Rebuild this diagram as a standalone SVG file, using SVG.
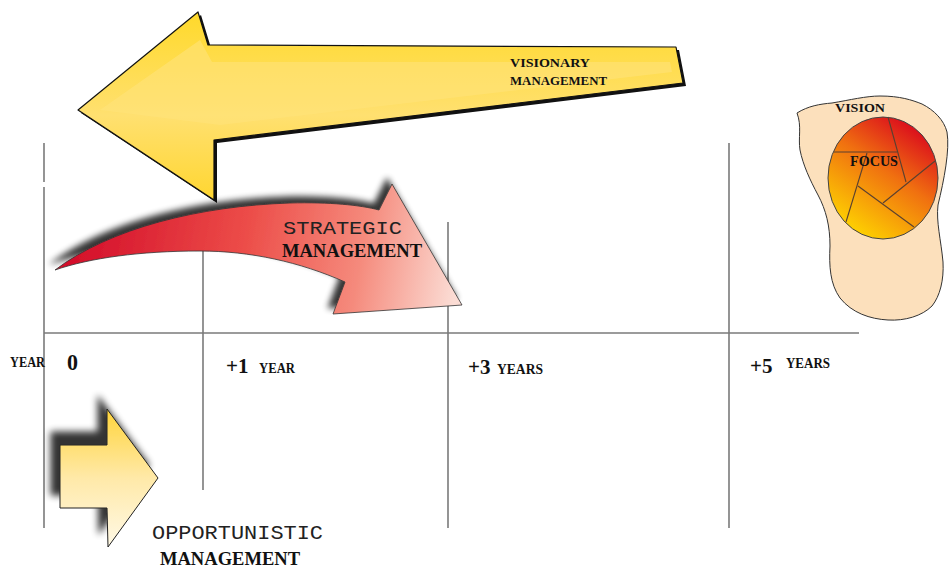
<svg xmlns="http://www.w3.org/2000/svg" width="949" height="568" viewBox="0 0 949 568">
<defs>
<style>
.grid{stroke:#7a7a7a;stroke-width:1.6;fill:none}
.serif{font-family:"Liberation Serif","Times New Roman",serif;font-weight:bold;fill:#111}
.mono{font-family:"Liberation Mono","Courier New",monospace;fill:#222}
.iris{stroke:#5a4030;stroke-width:1.1;fill:none}
</style>
<linearGradient id="yel" x1="0" y1="0" x2="0" y2="1">
<stop offset="0" stop-color="#FFD92A"/>
<stop offset="0.55" stop-color="#FFE070"/>
<stop offset="1" stop-color="#FFD630"/>
</linearGradient>
<linearGradient id="red" gradientUnits="userSpaceOnUse" x1="60" y1="250" x2="450" y2="320">
<stop offset="0" stop-color="#D20A28"/>
<stop offset="0.45" stop-color="#EC4C48"/>
<stop offset="0.75" stop-color="#F58A7C"/>
<stop offset="1" stop-color="#FBDCD4"/>
</linearGradient>
<linearGradient id="opp" x1="0" y1="0" x2="0" y2="1">
<stop offset="0" stop-color="#FFD43A"/>
<stop offset="0.5" stop-color="#FFE9A8"/>
<stop offset="1" stop-color="#FFF9E6"/>
</linearGradient>
<linearGradient id="eye" gradientUnits="userSpaceOnUse" x1="925" y1="125" x2="850" y2="235">
<stop offset="0" stop-color="#D8001E"/>
<stop offset="0.45" stop-color="#F07010"/>
<stop offset="1" stop-color="#FFD800"/>
</linearGradient>
<filter id="shUL" x="-20%" y="-30%" width="140%" height="160%">
<feOffset in="SourceAlpha" dx="-5" dy="-6" result="o"/>
<feGaussianBlur in="o" stdDeviation="3" result="b"/>
<feComponentTransfer in="b" result="c"><feFuncA type="linear" slope="0.8"/></feComponentTransfer>
<feMerge><feMergeNode in="c"/><feMergeNode in="SourceGraphic"/></feMerge>
</filter>
<filter id="shOpp" x="-40%" y="-40%" width="180%" height="180%">
<feOffset in="SourceAlpha" dx="-9" dy="-13" result="o"/>
<feGaussianBlur in="o" stdDeviation="3.5" result="b"/>
<feComponentTransfer in="b" result="c"><feFuncA type="linear" slope="0.8"/></feComponentTransfer>
<feMerge><feMergeNode in="c"/><feMergeNode in="SourceGraphic"/></feMerge>
</filter>
</defs>
<rect width="949" height="568" fill="#fff"/>

<g id="connectors">
<line class="grid" x1="44" y1="143" x2="44" y2="182"/>
<line class="grid" x1="44" y1="187" x2="44" y2="528"/>
<line class="grid" x1="203" y1="250" x2="203" y2="490"/>
<line class="grid" x1="448" y1="222" x2="448" y2="528"/>
<line class="grid" x1="729" y1="143" x2="729" y2="528"/>
<line class="grid" x1="44" y1="333" x2="859" y2="333"/>
</g>

<g id="axis-labels">
<text class="serif" x="10" y="367" font-size="14.5" textLength="35" lengthAdjust="spacingAndGlyphs">YEAR</text>
<text class="serif" x="67" y="370" font-size="23" textLength="11" lengthAdjust="spacingAndGlyphs">0</text>
<text class="serif" x="226" y="373" font-size="21">+1</text>
<text class="serif" x="259" y="373" font-size="14.5" textLength="36" lengthAdjust="spacingAndGlyphs">YEAR</text>
<text class="serif" x="468" y="374" font-size="21">+3</text>
<text class="serif" x="497" y="374" font-size="14.5" textLength="46" lengthAdjust="spacingAndGlyphs">YEARS</text>
<text class="serif" x="750" y="373" font-size="21">+5</text>
<text class="serif" x="786" y="368" font-size="14.5" textLength="44" lengthAdjust="spacingAndGlyphs">YEARS</text>
</g>

<g id="visionary">
<polygon points="78,110 198,12 208,45 676,47 683,83 214,140 214,200" fill="#111" transform="translate(3,3)"/>
<polygon points="78,110 198,12 208,45 676,47 683,83 214,140 214,200" fill="url(#yel)" stroke="#111" stroke-width="1.2" stroke-linejoin="round"/>
<polygon points="100,110 200,40 212,62 670,62 672,72 220,125" fill="#FFE27A" opacity="0.6"/>
<text class="serif" x="510" y="67" font-size="12.5" textLength="80" lengthAdjust="spacingAndGlyphs">VISIONARY</text>
<text class="serif" x="510" y="85" font-size="12.5" textLength="97" lengthAdjust="spacingAndGlyphs">MANAGEMENT</text>
</g>

<g id="strategic">
<path d="M55,270 C110,228 200,206 290,203 C330,202 360,205 379,210 L392,184 L462,305 L333,314 L345,282 C300,262 250,251 200,251 C140,251 90,258 55,270 Z" fill="url(#red)" stroke="#333" stroke-width="0.8" filter="url(#shUL)"/>
<text class="mono" x="283" y="234" font-size="19" textLength="119" lengthAdjust="spacingAndGlyphs">STRATEGIC</text>
<text class="serif" x="282" y="257" font-size="18.5" textLength="140" lengthAdjust="spacingAndGlyphs">MANAGEMENT</text>
</g>

<g id="opportunistic">
<polygon points="60,445 107,445 107,409 158,478 108,547 107,508 60,508" fill="url(#opp)" stroke="#222" stroke-width="1" filter="url(#shOpp)"/>
<text class="mono" x="152" y="539" font-size="21" textLength="171" lengthAdjust="spacingAndGlyphs">OPPORTUNISTIC</text>
<text class="serif" x="160" y="565" font-size="19" textLength="140" lengthAdjust="spacingAndGlyphs">MANAGEMENT</text>
</g>

<g id="vision">
<path d="M797,113 C808,106 820,104 832,103 C850,100 866,96 880,96 C900,96 912,100 922,104 C934,110 944,120 947,132 C950,150 944,180 938,205 C936,222 941,240 943,262 C944,280 940,296 932,306 C922,316 905,321 888,320 C870,319 852,313 840,298 C830,284 829,266 830,246 C830,226 826,210 818,195 C810,180 803,165 800,150 C798,138 802,126 797,113 Z" fill="#FCE0BC" stroke="#333" stroke-width="1"/>
<ellipse cx="883" cy="178" rx="55" ry="61" fill="url(#eye)" stroke="#444" stroke-width="1"/>
<line class="iris" x1="888" y1="117" x2="906" y2="182"/>
<line class="iris" x1="834" y1="152" x2="897" y2="152"/>
<line class="iris" x1="867" y1="153" x2="846" y2="222"/>
<line class="iris" x1="858" y1="186" x2="914" y2="227"/>
<line class="iris" x1="935" y1="161" x2="883" y2="203"/>
<text class="serif" x="835" y="112" font-size="13" textLength="50" lengthAdjust="spacingAndGlyphs">VISION</text>
<text class="serif" x="850" y="166" font-size="14" textLength="48" lengthAdjust="spacingAndGlyphs">FOCUS</text>
</g>
</svg>
